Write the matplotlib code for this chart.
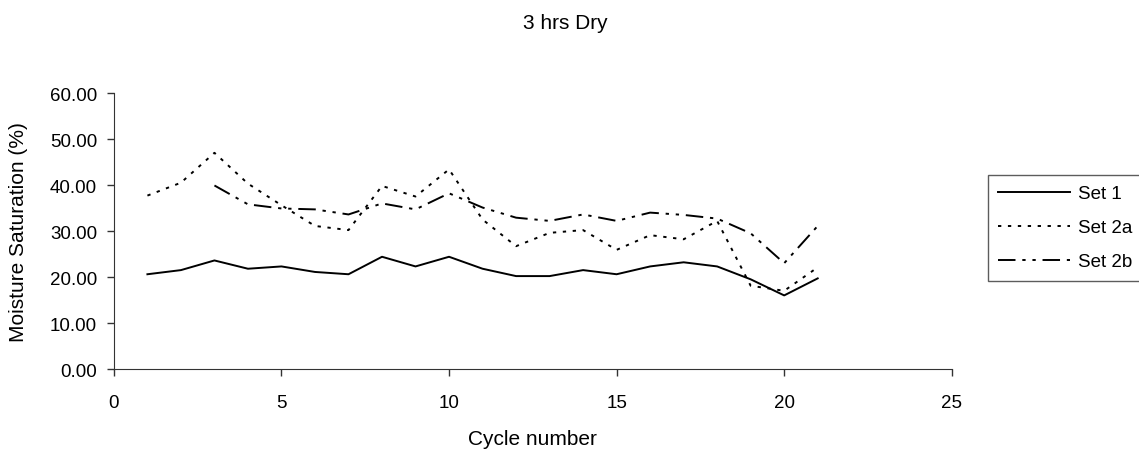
import matplotlib
matplotlib.use("Agg")
import matplotlib.pyplot as plt

plt.rcParams['font.family'] = ['Liberation Sans', 'DejaVu Sans']

# Moisture saturation per cycle
cycles = list(range(1, 22))
set1 = [20.6, 21.5, 23.6, 21.8, 22.3, 21.1, 20.6, 24.4, 22.3, 24.4, 21.8,
        20.2, 20.2, 21.5, 20.6, 22.3, 23.2, 22.3, 19.5, 16.0, 19.7]
set2a = [37.7, 40.5, 47.0, 40.3, 35.6, 31.1, 30.2, 39.8, 37.5, 43.4, 32.5,
         26.7, 29.6, 30.2, 25.9, 29.1, 28.2, 32.2, 18.1, 17.0, 22.1]
cycles_2b = list(range(3, 22))
set2b = [39.9, 35.8, 34.9, 34.7, 33.6, 36.0, 34.7, 38.2, 35.1, 32.9, 32.2,
         33.6, 32.2, 34.0, 33.5, 32.7, 29.5, 23.0, 31.1]

fig = plt.figure(figsize=(11.39, 4.52), dpi=100)
ax = fig.add_axes([0.100, 0.1814, 0.7356, 0.6106])

lw = 1.4
ax.plot(cycles, set1, color='black', lw=lw, label='Set 1')
ax.plot(cycles, set2a, color='black', lw=lw, linestyle=(0, (1.7, 3.4)), label='Set 2a')
ax.plot(cycles_2b, set2b, color='black', lw=lw,
        linestyle=(0, (9, 3.5, 1.7, 3.5, 1.7, 3.5)), label='Set 2b')

ax.set_xlim(0, 25)
ax.set_ylim(0, 60)
ax.set_xticks([0, 5, 10, 15, 20, 25])
ax.set_yticks(range(0, 61, 10))
ax.set_yticklabels([f"{v:.2f}" for v in range(0, 61, 10)])
ax.tick_params(labelsize=13.5, direction='out', length=5, width=1, color='#333333')
ax.tick_params(axis='y', pad=7)
ax.tick_params(axis='x', pad=13)
for s in ['top', 'right']:
    ax.spines[s].set_visible(False)
for s in ['left', 'bottom']:
    ax.spines[s].set_color('#333333')

ax.set_xlabel('Cycle number', fontsize=15, va='top')
ax.xaxis.set_label_coords(0.5, -0.218)
ax.set_ylabel('Moisture Saturation (%)', fontsize=15)
ax.yaxis.set_label_coords(-0.102, 0.5)
fig.text(0.496, 0.947, '3 hrs Dry', ha='center', va='center', fontsize=15)

leg = fig.legend(loc='upper left', bbox_to_anchor=(0.8675, 0.611), fontsize=13.5,
                 frameon=True, fancybox=False, handlelength=3.8, borderpad=0.55,
                 labelspacing=0.9, handletextpad=0.45, borderaxespad=0)
leg.get_frame().set_edgecolor('#333333')
leg.get_frame().set_linewidth(1.0)

fig.savefig('out.png', dpi=100)
